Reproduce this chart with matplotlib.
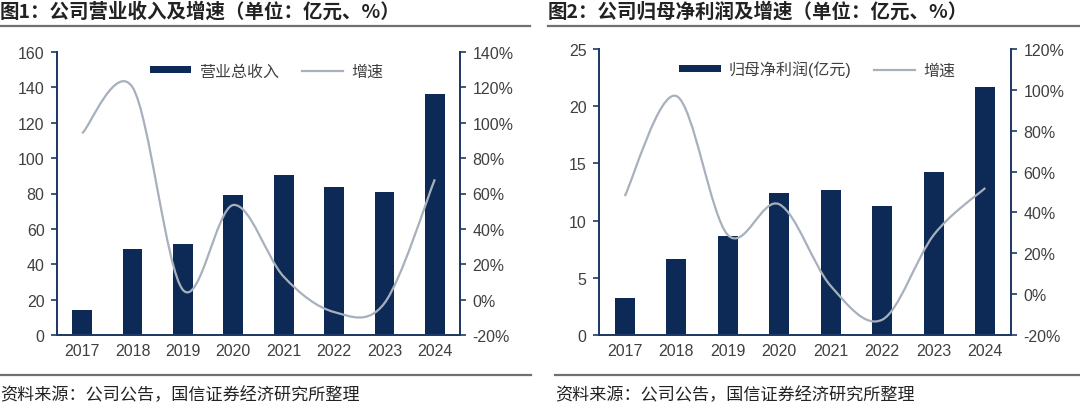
import numpy as np
import matplotlib
matplotlib.use('Agg')
import matplotlib.pyplot as plt
from matplotlib.path import Path
from matplotlib.patches import PathPatch
from matplotlib.lines import Line2D
from matplotlib.ticker import FuncFormatter

plt.rcParams['font.family'] = ['Liberation Sans', 'Noto Sans CJK SC', 'DejaVu Sans']

years = ['2017', '2018', '2019', '2020', '2021', '2022', '2023', '2024']

revenue = [14.3, 48.7, 51.5, 79.0, 90.5, 83.8, 80.8, 136.0]
revenue_growth = [94, 120, 5.5, 53.5, 13, -7, -2, 68]

profit = [3.27, 6.6, 8.67, 12.4, 12.67, 11.3, 14.26, 21.7]
profit_growth = [48, 97, 29, 44, 4, -12.5, 29, 52]

NAVY = '#0c2a55'
AXIS = '#1f3a66'
LINE = '#a7b0bd'
TXT = '#404040'
W, H = 1080, 410


def smooth_path(xs, ys):
    # excel style smoothed line: cubic bezier through every point
    pts = np.column_stack([xs, ys]).astype(float)
    n = len(pts)
    verts = [pts[0]]
    codes = [Path.MOVETO]
    for i in range(n - 1):
        p0 = pts[i - 1] if i > 0 else pts[i]
        p1 = pts[i]
        p2 = pts[i + 1]
        p3 = pts[i + 2] if i + 2 < n else pts[i + 1]
        c1 = p1 + (p2 - p0) / 6
        c2 = p2 - (p3 - p1) / 6
        verts += [c1, c2, p2]
        codes += [Path.CURVE4] * 3
    return Path(verts, codes)


def panel(rect, bars, growth, ylim, yticks, y2lim, y2ticks, bar_label, legend_x):
    ax = fig.add_axes(rect)
    x = np.arange(len(years))
    ax.bar(x, bars, width=0.39, color=NAVY, zorder=2, label=bar_label)
    ax.set_xlim(-0.5, len(years) - 0.5)
    ax.set_ylim(*ylim)
    ax.set_yticks(yticks)
    ax.set_xticks(x)
    ax.set_xticklabels(years)

    ax2 = ax.twinx()
    ax2.set_ylim(*y2lim)
    ax2.set_yticks(y2ticks)
    ax2.yaxis.set_major_formatter(FuncFormatter(lambda v, p: f'{v:.0f}%'))
    ax2.add_patch(PathPatch(smooth_path(x, growth), fill=False, edgecolor=LINE,
                            lw=1.6, zorder=3))

    for a in (ax, ax2):
        a.spines['top'].set_visible(False)
        for s in ('left', 'right', 'bottom'):
            a.spines[s].set_color(AXIS)
            a.spines[s].set_linewidth(1.3)
        a.tick_params(axis='y', length=4, width=1.2, color=AXIS, labelsize=11.5,
                      labelcolor=TXT, pad=5)
        a.tick_params(axis='x', length=0, labelsize=11.5, labelcolor=TXT, pad=6)

    handles = [ax.patches[0], Line2D([], [], color=LINE, lw=1.6)]
    ax.legend(handles, [bar_label, '增速'], loc='upper center', ncol=2,
              bbox_to_anchor=(legend_x, 1.01), frameon=False, fontsize=11.5,
              handlelength=2.6, handleheight=0.3, columnspacing=1.4,
              handletextpad=0.5, labelcolor=TXT)
    return ax


fig = plt.figure(figsize=(W / 100, H / 100), dpi=100)

panel([57 / W, 74 / H, 403 / W, 283 / H], revenue, revenue_growth,
      (0, 160), range(0, 161, 20), (-20, 140), range(-20, 141, 20),
      '营业总收入', 0.52)
panel([599 / W, 74 / H, 412 / W, 286 / H], profit, profit_growth,
      (0, 25), range(0, 26, 5), (-20, 120), range(-20, 121, 20),
      '归母净利润(亿元)', 0.53)

titles = ['图1：公司营业收入及增速（单位：亿元、%）', '图2：公司归母净利润及增速（单位：亿元、%）']
for x0, x1, t in [(0, 530, titles[0]), (548, 1080, titles[1])]:
    fig.text(x0 / W, 1 - 12 / H, t, fontsize=14, fontweight='bold', color='#222222',
             va='center', ha='left', family=['Noto Sans CJK SC', 'DejaVu Sans'])
    fig.add_artist(Line2D([x0 / W, x1 / W], [1 - 27 / H] * 2, color='#707070', lw=1.6))

for x0, x1 in [(0, 531), (555, 1080)]:
    fig.add_artist(Line2D([x0 / W, x1 / W], [1 - 376 / H] * 2, color='#707070', lw=1.6))
    fig.text(x0 / W, 1 - 395 / H, '资料来源：公司公告，国信证券经济研究所整理', fontsize=12.3,
             color='#222222', va='center', ha='left',
             family=['Noto Sans CJK SC', 'DejaVu Sans'])

fig.savefig('out.png', dpi=100)
plt.close(fig)
